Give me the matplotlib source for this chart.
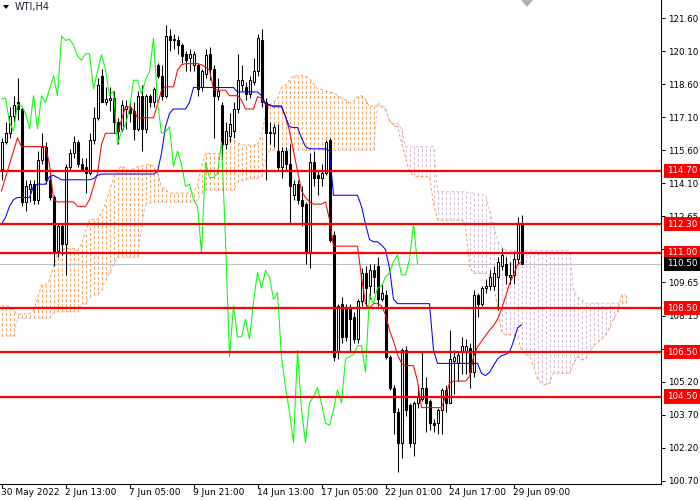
import numpy as np
import matplotlib
matplotlib.use("Agg")
import matplotlib.pyplot as plt
import matplotlib.transforms as mtransforms
from matplotlib.patches import Polygon

plt.rcParams['font.family'] = ['DejaVu Sans']
plt.rcParams['lines.scale_dashes'] = False

# WTI, H4 candles (oldest first)
opens = [114.8, 116.0, 116.4, 117.2, 117.8, 117.5, 113.3, 113.9, 114.1, 113.4,
         115.2, 115.8, 114.3, 113.5, 111.1, 112.2, 111.4, 114.9, 115.5, 116.0,
         115.0, 114.9, 114.6, 116.1, 117.1, 119.0, 117.8, 117.9, 118.0, 116.9,
         116.6, 117.5, 117.6, 117.4, 116.6, 118.1, 116.6, 118.1, 117.8, 119.5,
         119.0, 118.1, 120.8, 120.6, 120.6, 120.4, 120.0, 119.8, 119.5, 119.5,
         118.5, 119.1, 120.0, 119.3, 118.1, 117.7, 115.9, 116.3, 116.5, 117.5,
         118.6, 118.5, 118.2, 118.7, 119.2, 120.6, 117.8, 116.4, 116.4, 115.6,
         114.9, 115.6, 115.0, 113.6, 114.1, 113.4, 113.2, 111.0, 115.1, 114.5,
         114.4, 114.6, 116.1, 111.8, 106.5, 108.7, 108.5, 108.5, 108.1, 107.1,
         108.8, 110.1, 109.5, 110.2, 110.4, 108.9, 109.1, 106.3, 104.9, 103.8,
         102.4, 106.6, 104.1, 102.4, 104.2, 104.4, 104.9, 104.3, 103.3, 103.3,
         103.9, 104.8, 104.2, 106.1, 106.0, 106.5, 106.5, 106.7, 105.6, 109.1,
         108.7, 109.4, 109.5, 109.5, 109.9, 110.4, 110.5, 109.9, 110.0, 110.7, 112.3]
highs = [116.2, 116.9, 117.6, 118.1, 118.9, 117.6, 114.3, 114.3, 114.3, 115.6,
         116.4, 116.0, 114.8, 113.6, 112.3, 112.3, 115.0, 115.7, 116.3, 116.1,
         115.3, 115.3, 116.4, 117.6, 118.9, 119.3, 118.5, 118.5, 118.3, 117.1,
         117.9, 117.9, 117.8, 117.8, 118.3, 118.6, 118.2, 118.2, 118.5, 119.6,
         119.5, 121.3, 121.1, 120.9, 120.8, 120.5, 120.1, 120.2, 120.1, 119.6,
         119.3, 120.2, 120.3, 119.5, 118.9, 117.8, 116.9, 117.3, 117.8, 120.0,
         119.5, 118.7, 119.0, 119.8, 120.9, 121.1, 118.0, 116.9, 116.8, 116.8,
         115.8, 115.8, 115.9, 114.3, 114.3, 114.0, 113.3, 115.5, 115.6, 114.7,
         115.0, 116.1, 116.2, 112.0, 108.7, 109.0, 108.7, 108.7, 108.3, 108.9,
         110.3, 110.4, 110.5, 110.5, 110.8, 109.6, 109.3, 106.4, 105.0, 104.0,
         106.7, 106.8, 104.2, 104.3, 105.0, 106.5, 105.4, 104.4, 103.5, 104.0,
         104.9, 105.0, 107.5, 106.6, 106.5, 107.2, 107.1, 106.9, 109.3, 109.2,
         109.5, 109.8, 110.2, 110.4, 110.8, 111.2, 110.8, 110.6, 111.1, 112.6, 112.7]
lows = [114.3, 115.9, 116.2, 116.9, 117.0, 113.1, 112.9, 113.3, 113.2, 113.2,
        115.0, 114.1, 113.4, 110.4, 110.8, 110.9, 110.0, 114.7, 115.3, 114.9,
        114.7, 113.7, 114.5, 115.9, 117.0, 117.8, 117.7, 117.4, 116.4, 115.9,
        116.5, 116.6, 116.9, 116.1, 116.5, 115.6, 116.4, 117.6, 117.6, 118.9,
        117.9, 118.0, 120.1, 120.2, 120.0, 119.6, 119.2, 119.2, 119.2, 118.1,
        118.3, 118.9, 118.8, 116.2, 117.9, 115.2, 115.7, 116.0, 116.2, 117.3,
        118.3, 117.9, 118.0, 118.6, 119.0, 117.6, 114.3, 115.9, 115.8, 114.7,
        114.4, 114.7, 112.3, 113.4, 113.2, 112.2, 110.5, 110.3, 114.0, 113.6,
        114.0, 114.5, 111.5, 106.1, 106.2, 106.9, 107.0, 106.5, 106.9, 106.9,
        108.6, 108.6, 108.9, 109.2, 108.6, 108.8, 106.2, 104.8, 102.8, 101.1,
        101.7, 103.6, 102.2, 101.8, 104.0, 104.3, 102.9, 103.0, 102.9, 102.8,
        102.8, 103.8, 104.2, 104.6, 105.2, 105.5, 105.5, 104.9, 105.4, 108.1,
        108.6, 109.2, 109.3, 109.3, 108.4, 110.2, 109.6, 109.6, 109.6, 110.5, 110.5]
closes = [116.0, 116.4, 117.2, 117.7, 117.5, 113.3, 114.0, 114.1, 113.4, 115.2,
          115.8, 114.3, 113.5, 111.1, 112.2, 111.4, 114.9, 115.5, 116.0, 115.0,
          114.8, 114.6, 116.1, 117.1, 118.6, 117.8, 117.95, 118.0, 116.9, 116.5,
          117.7, 117.65, 117.3, 116.6, 118.1, 116.6, 118.1, 117.8, 118.4, 119.0,
          118.1, 120.8, 120.6, 120.65, 120.4, 119.9, 119.7, 120.0, 120.0, 118.4,
          119.2, 119.96, 119.3, 118.1, 118.3, 115.9, 116.5, 116.8, 117.5, 118.8,
          118.8, 118.2, 118.8, 119.2, 120.7, 117.8, 116.4, 116.45, 116.7, 114.9,
          115.6, 115.0, 114.0, 114.1, 113.4, 113.1, 111.0, 115.1, 114.4, 114.4,
          114.6, 116.0, 111.6, 106.3, 108.6, 107.2, 107.2, 108.0, 107.1, 108.8,
          110.1, 109.4, 110.2, 109.9, 108.9, 109.2, 106.3, 104.9, 103.8, 102.4,
          106.6, 103.9, 102.4, 104.2, 104.5, 104.9, 104.2, 103.3, 103.2, 103.9,
          104.8, 104.2, 106.2, 106.3, 106.4, 106.8, 106.8, 105.6, 109.1, 108.7,
          109.4, 109.5, 109.9, 110.1, 110.6, 110.9, 110.0, 110.0, 110.7, 112.3, 110.5]

# Ichimoku lines
tenkan = ([113.8, 114.4, 115.0, 115.6, 116.2] + [115.8] * 7 + [115.0, 113.4] + [113.3] * 5
          + [113.1] * 3 + [113.4, 114.0, 114.6, 115.9] + [116.4] * 4 + [117.0, 117.6, 117.6, 117.45]
          + [117.1] * 5 + [117.7, 118.35] + [118.5] * 3 + [119.25, 119.5] + [119.55] * 4
          + [119.5, 119.4, 119.25, 118.4] + [118.35] * 3 + [118.1] * 3 + [117.9] + [117.5] * 3
          + [118.05, 118.0, 117.7] + [117.65] * 4 + [117.15, 116.5, 115.6, 114.7, 113.8, 113.5, 113.3]
          + [113.2] * 3 + [113.3, 112.5] + [111.3] * 7 + [109.9, 108.7, 108.5, 108.7, 108.7, 108.6,
          108.2, 107.5, 107.0, 106.4, 106.0, 105.9, 105.9, 105.9, 105.2] + [104.0] * 6
          + [104.5, 105.1] + [105.2] * 4 + [105.4, 106.3, 106.75, 107.0, 107.25, 107.5, 107.7,
          108.0, 108.45, 109.0, 109.6, 110.0, 110.45, 110.6])
kijun = ([112.3, 112.6, 113.1, 113.4] + [113.5] * 4 + [114.0] + [114.1] * 3 + [114.44, 114.5, 114.4]
         + [114.3] * 8 + [114.35, 114.5] + [114.56] * 14 + [114.66, 115.5, 116.7, 117.3]
         + [117.5] * 4 + [117.8] + [118.47] * 11 + [118.27] * 6 + [118.1, 117.75, 117.7]
         + [117.6] * 3 + [117.15, 116.7, 116.66, 116.66, 116.2, 115.8] + [115.7] * 5 + [115.6]
         + [113.6] * 7 + [113.1, 112.3, 111.6, 111.5, 111.5, 111.35, 111.15, 110.3, 108.9]
         + [108.7] * 9 + [106.6] + [106.0] * 11 + [105.55, 105.45, 105.6, 105.9, 106.2, 106.35,
         106.4, 106.5, 107.0, 107.6, 107.74])
span_a = ([108.6] * 3 + [108.4, 108.2, 108.24, 108.24, 108.24, 108.4, 108.9, 109.54, 109.54,
          109.77, 110.37, 110.97, 111.1] + [111.2] * 3 + [111.1, 111.4, 111.95] + [112.5] * 3
          + [112.8, 113.23, 113.8, 114.4, 114.74, 114.92, 114.8, 114.7, 114.8, 114.89, 114.92,
          114.96, 115.0, 114.89, 114.6, 113.98, 113.83] + [113.7] * 7 + [114.06, 114.89]
          + [115.49] * 5 + [116.09] * 3 + [116.0] + [115.87] * 5 + [116.3, 117.2, 117.67, 117.82,
          117.97, 118.47, 118.57, 118.8] + [119.0] * 4 + [118.87, 118.65, 118.42, 118.38, 118.3,
          118.27, 118.23, 118.12, 118.0, 117.9, 117.78, 117.82, 118.05, 118.1, 117.93, 117.6,
          117.63, 117.67, 117.6, 117.45, 117.0, 116.75, 116.69, 116.0, 115.3, 114.66, 114.5]
          + [114.44] * 4 + [113.23] + [112.48] * 7 + [112.3, 110.4] + [110.07] * 4
          + [110.0, 109.5, 108.6, 107.4] + [107.3] * 3 + [107.2, 106.6, 106.37, 106.35, 105.9,
          105.3, 105.1, 105.03, 105.1] + [105.56] * 5 + [106.0, 106.3, 106.16, 106.2, 106.5,
          106.8, 106.95, 107.1, 107.3, 107.6, 108.0, 108.3, 109.1, 109.1])
span_b = ([107.24] * 4 + [108.04] * 9 + [108.27] + [108.34] * 6 + [108.69] * 2 + [109.0]
          + [109.09] * 2 + [109.3, 109.77, 110.07, 110.45] + [110.8] * 6 + [112.18, 113.16, 113.23]
          + [113.29] * 11 + [113.41, 113.7] + [113.83] * 8 + [114.21, 114.26, 114.3]
          + [114.36] * 3 + [114.45, 115.2] + [115.64] * 27 + [117.75, 117.7, 117.55, 116.9]
          + [116.84] * 2 + [116.6] + [115.79] * 8 + [113.76] * 8 + [113.71, 113.7, 113.65, 113.62,
          113.6, 112.93, 112.2, 111.58, 111.27, 111.15] + [111.1] * 16 + [109.3, 109.0, 108.9]
          + [108.72] * 11)

assert len(tenkan) == len(closes) == len(kijun)
assert len(span_a) == len(span_b) == len(closes) + 26

levels = [114.70, 112.30, 111.00, 108.50, 106.50, 104.50]
bid = 110.50
# 111.15 sits fully under the 111.00 / 110.50 boxes in the original, so it is left blank
price_labels = ["121.60", "120.10", "118.60", "117.10", "115.60", "114.10", "112.65", "",
                "109.65", "108.15", "106.65", "105.20", "103.70", "102.20", "100.70"]
time_labels = ["30 May 2022", "2 Jun 13:00", "7 Jun 05:00", "9 Jun 21:00", "14 Jun 13:00",
               "17 Jun 05:00", "22 Jun 01:00", "24 Jun 17:00", "29 Jun 09:00"]
time_bars = [0, 16, 32, 48, 64, 80, 96, 112, 128]

W, H = 700, 500
fig = plt.figure(figsize=(W / 100, H / 100), dpi=100)
ax = fig.add_axes([0, 16 / H, 661 / W, 484 / H])
ax.set_xlim(-0.375, 164.875)
ax.set_ylim(100.547, 122.427)

o = np.array(opens); h = np.array(highs); l = np.array(lows); c = np.array(closes)
x = np.arange(len(c))
up = c >= o

# cloud
a = np.array(span_a); b = np.array(span_b)
j = np.arange(len(a))
bull = a >= b
dash = (0, (2.2, 1.5))
ax.vlines(j[bull], b[bull], a[bull], colors='#F4A460', linestyles=[dash], lw=0.75, zorder=1)
ax.vlines(j[~bull], a[~bull], b[~bull], colors='#D8BFD8', linestyles=[dash], lw=0.75, zorder=1)
ax.plot(j, a, color='#F4A460', ls=dash, lw=0.75, zorder=1)
ax.plot(j, b, color='#D8BFD8', ls=dash, lw=0.75, zorder=1)

# bid line
ax.axhline(bid, color='#C0C0C0', lw=0.75, zorder=2)

# candles
ax.vlines(x, l, h, color='black', lw=0.75, zorder=3)
ax.bar(x[up], c[up] - o[up], bottom=o[up], width=0.5, color='white',
       edgecolor='black', linewidth=0.75, zorder=4)
ax.bar(x[~up], o[~up] - c[~up], bottom=c[~up], width=0.5, color='black',
       edgecolor='black', linewidth=0.75, zorder=4)

# ichimoku lines
ax.plot(x, tenkan, color='#FF0000', lw=0.75, zorder=5)
ax.plot(x, kijun, color='#0000FF', lw=0.75, zorder=5)
ax.plot(x[26:] - 26, c[26:], color='#00FF00', lw=0.75, zorder=5)

# horizontal levels
for v in levels:
    ax.axhline(v, color='#FF0000', lw=1.6, zorder=6)

# axes look
for s in ['left', 'top']:
    ax.spines[s].set_visible(False)
for s in ['right', 'bottom']:
    ax.spines[s].set_linewidth(0.75)
ax.yaxis.tick_right()
ax.set_yticks(np.linspace(121.60, 100.70, len(price_labels)))
ax.set_yticklabels(price_labels)
ax.tick_params(axis='y', length=3, width=0.75, pad=2, labelsize=6.3)
ax.set_xticks(time_bars)
ax.set_xticklabels([''] * len(time_bars))
ax.tick_params(axis='x', length=3, width=0.75)

xtr = mtransforms.blended_transform_factory(ax.transData, ax.transAxes)
xtr = mtransforms.offset_copy(xtr, fig=fig, x=0.5, y=-3, units='points')
for pos, lab in zip(time_bars, time_labels):
    ax.text(pos - 0.3, 0, lab, transform=xtr, ha='left', va='top', fontsize=6.5)

ytr = mtransforms.blended_transform_factory(ax.transAxes, ax.transData)
ytr = mtransforms.offset_copy(ytr, fig=fig, x=4, y=0, units='points')
for v in levels:
    ax.text(1.0, v, f"{v:.2f}", transform=ytr, ha='left', va='center', color='white',
            fontsize=6.3, zorder=10, clip_on=False,
            bbox=dict(boxstyle='square,pad=0.3', fc='#FF0000', ec='none'))
ax.text(1.0, bid, f"{bid:.2f}", transform=ytr, ha='left', va='center', color='white',
        fontsize=6.3, zorder=10, clip_on=False,
        bbox=dict(boxstyle='square,pad=0.3', fc='black', ec='none'))

# chart title and markers
def px(xp, yp):
    return (xp / W, 1 - yp / H)

fig.patches.append(Polygon([px(3, 5), px(9, 5), px(6, 9)], closed=True, fc='black',
                           ec='none', transform=fig.transFigure))
fig.patches.append(Polygon([px(521, 0), px(533, 0), px(527, 7)], closed=True, fc='#B0B0B0',
                           ec='none', transform=fig.transFigure))
fig.text(15 / W, 1 - 2 / H, "WTI,H4", ha='left', va='top', fontsize=7, color='#202030')

fig.savefig("out.png", dpi=100, facecolor='white')
